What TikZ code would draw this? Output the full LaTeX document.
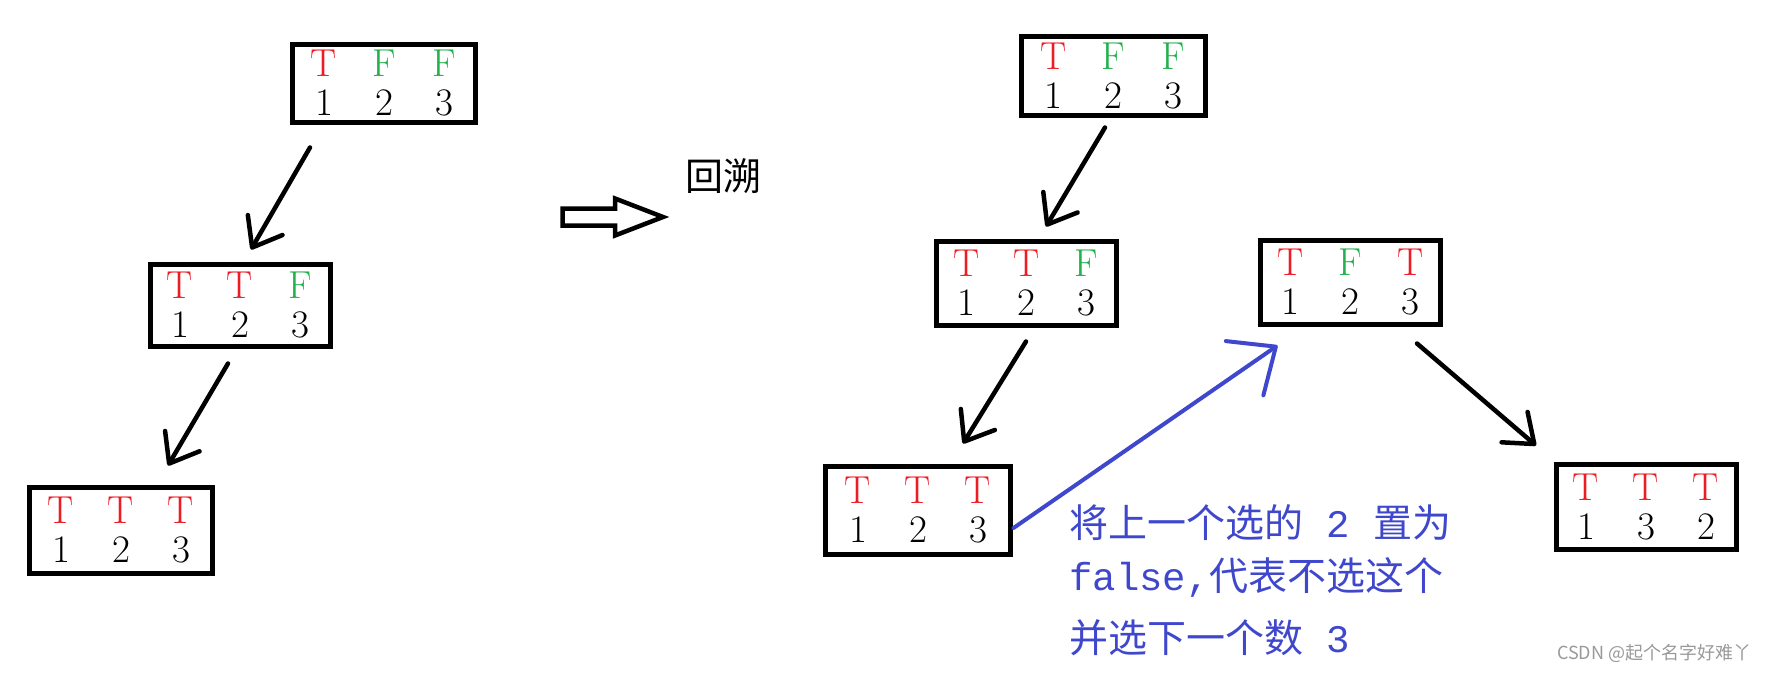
\documentclass[tikz,border=0pt]{standalone}
\usepackage{fontspec}
\newfontfamily\cjk{Noto Sans CJK SC}
\newfontfamily\mono{Liberation Mono}
\usetikzlibrary{arrows.meta, calc}
\definecolor{tred}{HTML}{ED1C24}
\definecolor{fgreen}{HTML}{22B14C}
\definecolor{nblue}{HTML}{3F48CC}
\newcommand{\tT}{\makebox[60pt]{\color{tred}T}}
\newcommand{\tF}{\makebox[60pt]{\color{fgreen}F}}
\newcommand{\dg}[1]{\makebox[60pt]{#1}}

\begin{document}
\begin{tikzpicture}[
    x=1pt, y=-1pt,
    cell/.style 2 args={draw, line width=5pt, minimum width=#1, minimum height=#2, inner sep=0pt, align=center, font=\fontsize{39}{39}\selectfont},
    link/.style={-{Straight Barb[round, length=26pt, width=40pt]}, line width=4.5pt, line cap=round},
    back/.style={-{Straight Barb[round, length=38pt, width=66pt]}, nblue, line width=4pt, line cap=round},
    note/.style={inner sep=0pt, align=left, text=nblue, font=\cjk\fontsize{39}{53}\selectfont}
]
\useasboundingbox (0,0) rectangle (1781,674);
% left tree
\node[cell={183pt}{78pt}] (a) at (384,83.5) {\tT\tF\tF\\\dg1\dg2\dg3};
\node[cell={171pt}{82pt}] (b) at (240,305.5) {\tT\tT\tF\\\dg1\dg2\dg3};
\node[cell={183pt}{86pt}] (c) at (121,530.5) {\tT\tT\tT\\\dg1\dg2\dg3};
\draw[link] ($(a.south)+(-74,22.5)$) -- ($(b.north)+(11,-12.5)$);
\draw[link] ($(b.south)+(-12,14.5)$) -- ($(c.north)+(47,-19.5)$);
% hollow arrow
\draw[line width=4.5pt, line join=miter] (562.5,208.5) -- (615,208.5) -- (615,198.5) -- (663,217) -- (615,235.5) -- (615,225.5) -- (562.5,225.5) -- cycle;
\node[inner sep=0pt, font=\cjk\fontsize{38}{38}\selectfont] (bt) at (723,176) {回溯};
% right tree
\node[cell={184pt}{79pt}] (d) at (1113.5,76) {\tT\tF\tF\\\dg1\dg2\dg3};
\node[cell={172pt}{84pt}] (e) at (1026.5,283.5) {\tT\tT\tF\\\dg1\dg2\dg3};
\node[cell={172pt}{84pt}] (f) at (1350.5,282.5) {\tT\tF\tT\\\dg1\dg2\dg3};
\node[cell={185pt}{88pt}] (g) at (918,510.5) {\tT\tT\tT\\\dg1\dg2\dg3};
\node[cell={169pt}{85pt}] (h) at (1646,507) {\tT\tT\tT\\\dg1\dg3\dg2};
\draw[link] ($(d.south)+(-8.5,9.5)$) -- ($(e.north)+(19.5,-12.5)$);
\draw[link] ($(e.south)+(-0.5,13.5)$) -- ($(g.north)+(45,-20.5)$);
\draw[link] ($(f.south)+(66.5,16.5)$) -- ($(h.north west)+(-17.5,-16.5)$);
\draw[back] ($(g.east)+(0.5,17.5)$) -- ($(f.south west)+(19.5,18.5)$);
\node[note, anchor=base west] (nt) at (1069,652) {将上一个选的{\mono\ 2\ }置为\\{\mono false,}代表不选这个\\[9pt]并选下一个数{\mono\ 3}};
\node[inner sep=0pt, anchor=west, text=black!40, font=\cjk\fontsize{18}{18}\selectfont] (wm) at (1557,653) {CSDN @起个名字好难丫};
\end{tikzpicture}
\end{document}
